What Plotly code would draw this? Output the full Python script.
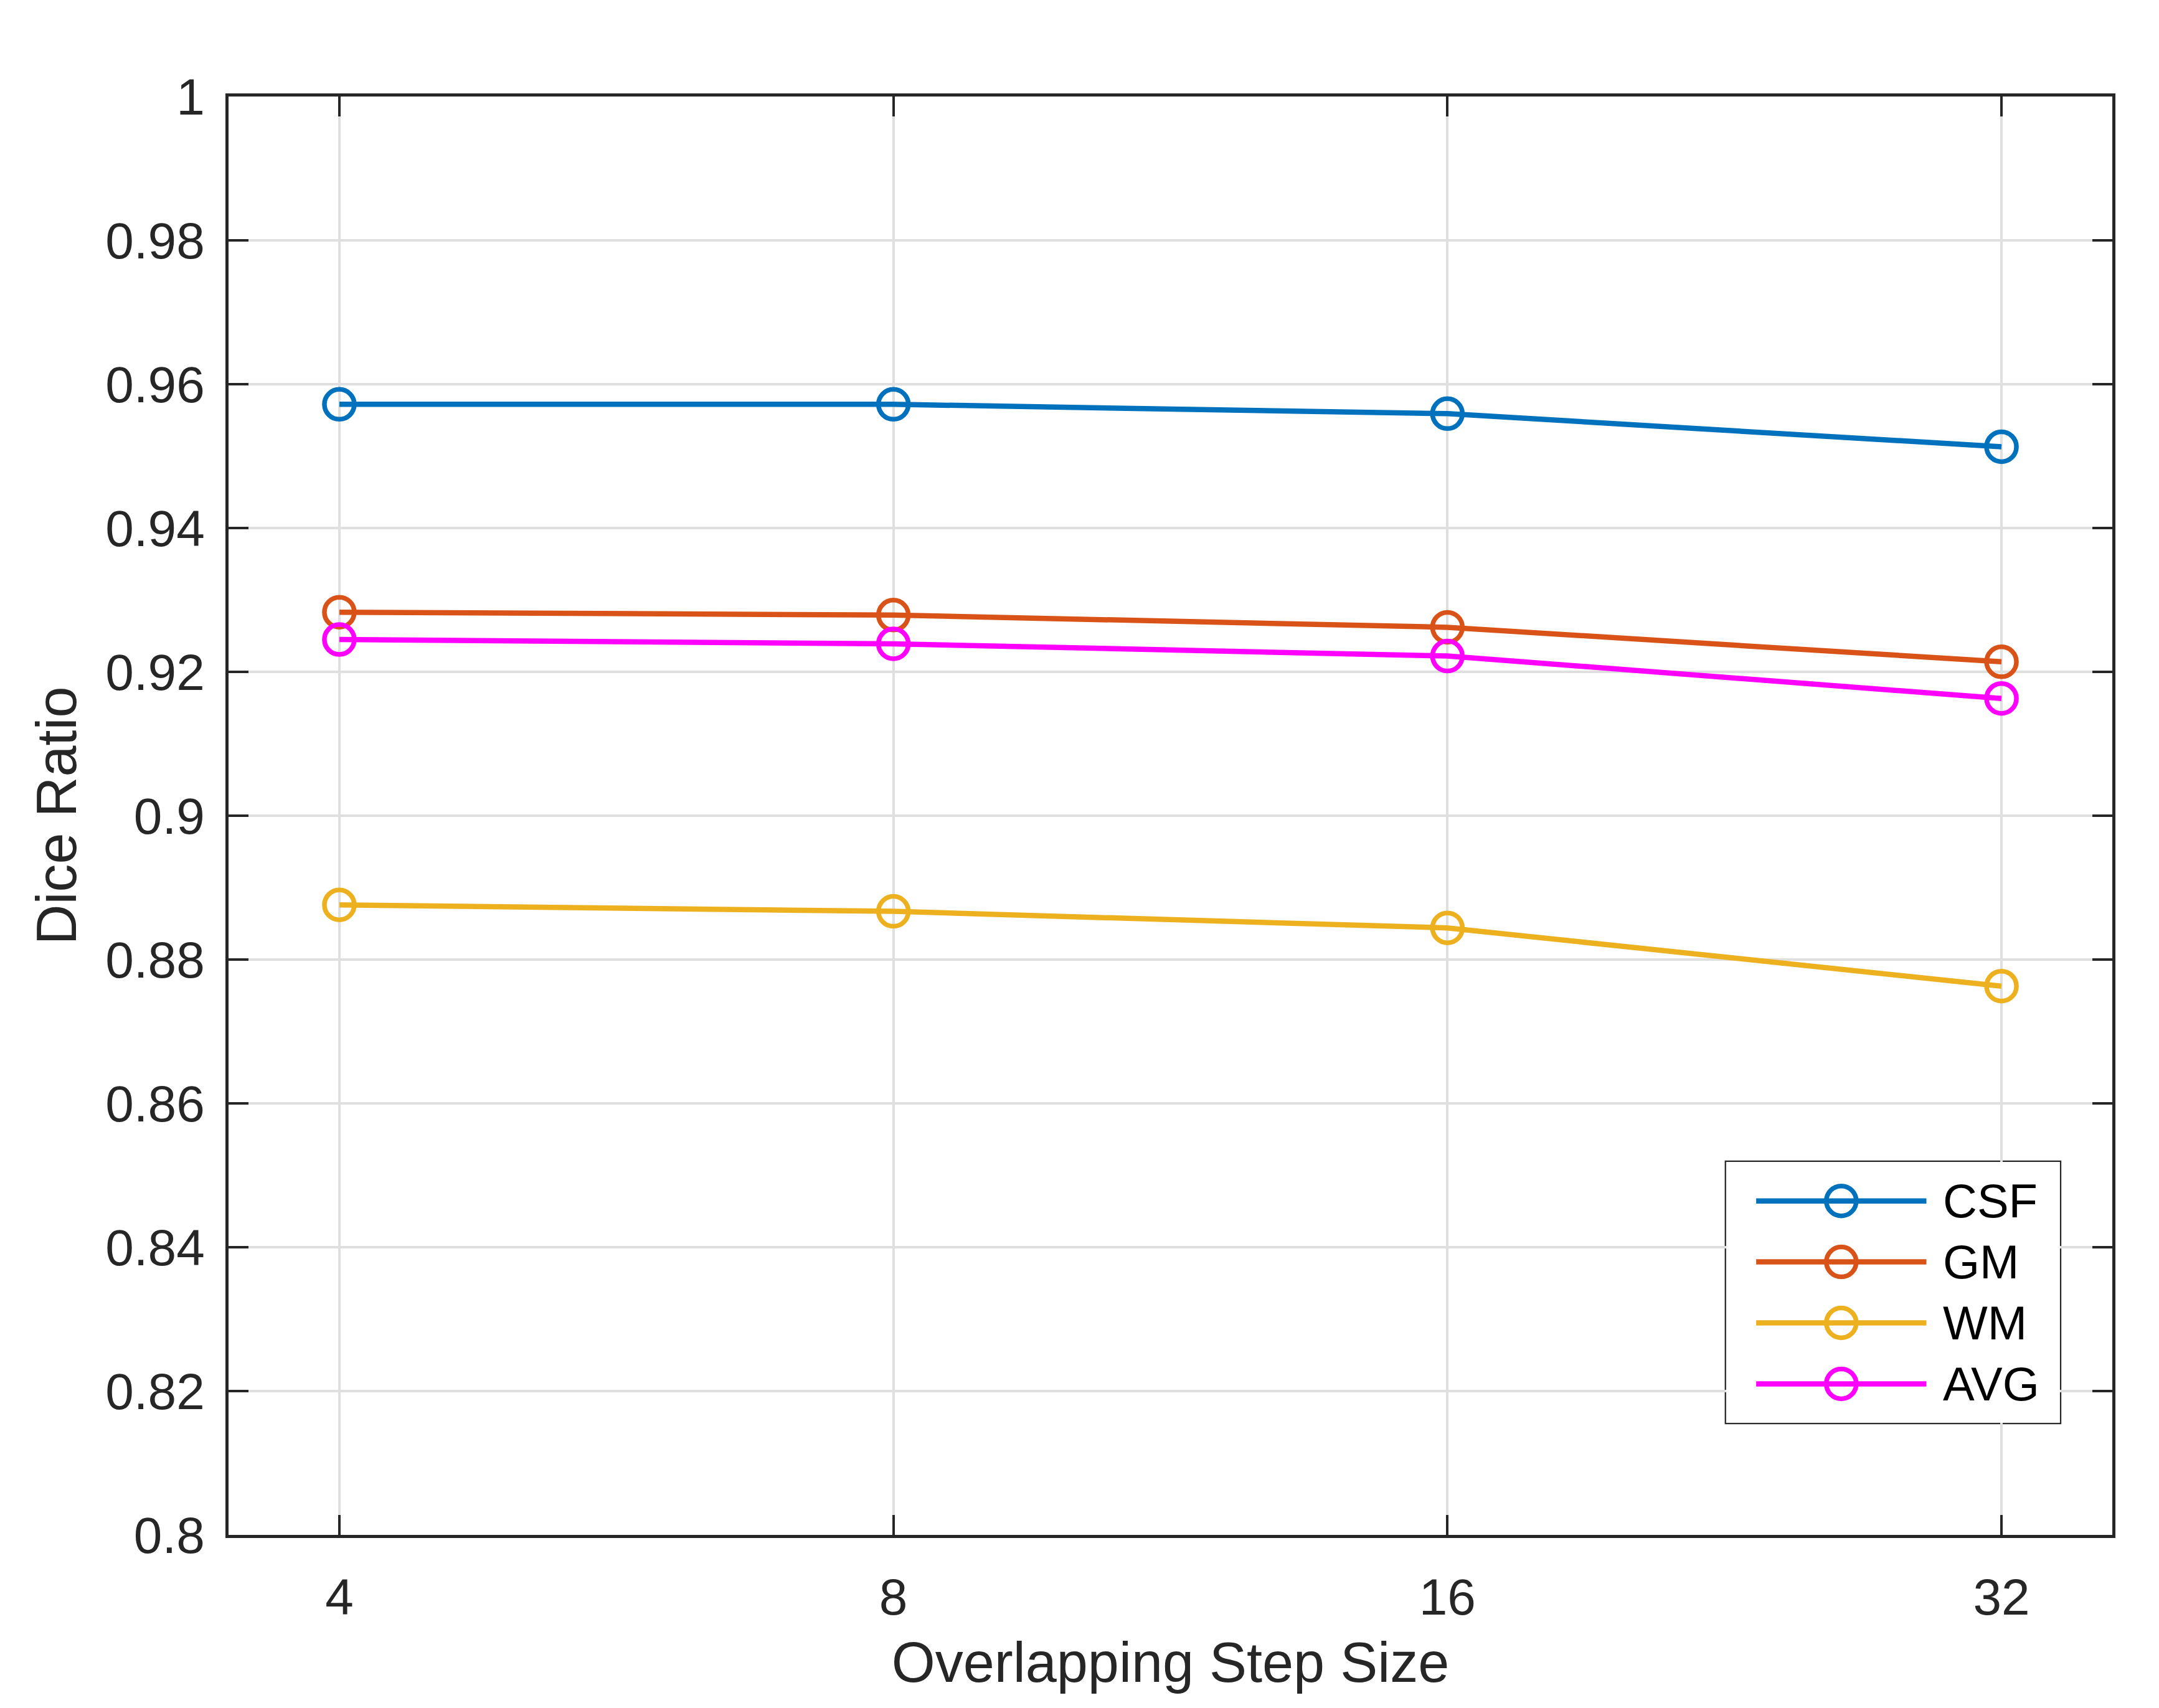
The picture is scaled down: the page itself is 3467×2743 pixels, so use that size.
import math
import plotly.graph_objects as go

# step sizes and dice ratios per tissue class
step_sizes = [4, 8, 16, 32]
csf = [0.9572, 0.9572, 0.9559, 0.9513]
gm = [0.9283, 0.9279, 0.9262, 0.9214]
wm = [0.8876, 0.8867, 0.8844, 0.8763]
avg = [0.9245, 0.9239, 0.9222, 0.9163]

series_names = ['CSF', 'GM', 'WM', 'AVG']
series_values = [csf, gm, wm, avg]
colors = ['#0072BD', '#D95319', '#EDB120', '#FF00FF']

y_ticks = [0.8, 0.82, 0.84, 0.86, 0.88, 0.9, 0.92, 0.94, 0.96, 0.98, 1]

FONT = 'Liberation Sans, Arial, Helvetica, sans-serif'
AX = '#262626'
GRID = '#dfdfdf'

fig = go.Figure()

for name, vals, col in zip(series_names, series_values, colors):
    fig.add_trace(go.Scatter(
        x=step_sizes, y=vals, name=name, mode='lines+markers',
        line=dict(color=col, width=8.5),
        marker=dict(symbol='circle-open', size=48, color=col,
                    line=dict(width=7.5, color=col)),
        showlegend=False
    ))

# hand-made legend on an overlay axis (long sample lines like the original)
for i, (name, col) in enumerate(zip(series_names, colors)):
    fig.add_trace(go.Scatter(
        x=[0.09, 0.6], y=[i, i], mode='lines', xaxis='x2', yaxis='y2',
        line=dict(color=col, width=8.5), showlegend=False, hoverinfo='skip'
    ))
    fig.add_trace(go.Scatter(
        x=[0.345], y=[i], mode='markers', xaxis='x2', yaxis='y2',
        marker=dict(symbol='circle-open', size=48, color=col,
                    line=dict(width=7.5, color=col)),
        showlegend=False, hoverinfo='skip'
    ))
    fig.add_annotation(x=0.645, y=i, xref='x2', yref='y2', text=name,
                       showarrow=False, xanchor='left', yanchor='middle',
                       font=dict(family=FONT, size=76, color='black'))

lx0, lx1 = 0.795, 0.9722
ly0, ly1 = 0.0779, 0.2593
fig.add_shape(type='rect', xref='paper', yref='paper',
              x0=lx0, x1=lx1, y0=ly0, y1=ly1,
              line=dict(color=AX, width=4.5), fillcolor='white', layer='between')

pad = 0.2 * math.log10(2)
fig.update_layout(
    width=3467, height=2743,
    margin=dict(l=359, r=83, t=147, b=286),
    paper_bgcolor='white', plot_bgcolor='white',
    font=dict(family=FONT, size=82, color=AX),
    xaxis=dict(
        type='log',
        range=[math.log10(step_sizes[0]) - pad, math.log10(step_sizes[-1]) + pad],
        tickmode='array', tickvals=step_sizes, ticktext=[str(s) for s in step_sizes],
        showgrid=True, gridcolor=GRID, gridwidth=4,
        showline=True, linecolor=AX, linewidth=4.5, mirror='ticks',
        ticks='inside', ticklen=32, tickwidth=4, tickcolor=AX,
        ticklabelstandoff=25,
        title=dict(text='Overlapping Step Size', font=dict(size=90, color=AX), standoff=30),
        zeroline=False
    ),
    yaxis=dict(
        range=[0.8, 1.0],
        tickmode='array', tickvals=y_ticks, ticktext=[f'{v:g}' for v in y_ticks],
        showgrid=True, gridcolor=GRID, gridwidth=4,
        showline=True, linecolor=AX, linewidth=4.5, mirror='ticks',
        ticks='inside', ticklen=32, tickwidth=4, tickcolor=AX,
        ticklabelstandoff=17,
        title=dict(text='Dice Ratio', font=dict(size=90, color=AX), standoff=18),
        zeroline=False
    ),
    xaxis2=dict(domain=[lx0, lx1], anchor='y2', range=[0, 1], visible=False,
                fixedrange=True),
    yaxis2=dict(domain=[ly0, ly1], anchor='x2', range=[3.64, -0.64], visible=False,
                fixedrange=True),
)

fig.write_html('out.html')
